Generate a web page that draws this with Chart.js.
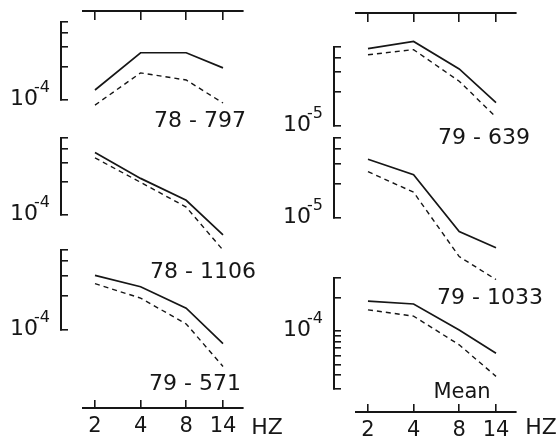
<!DOCTYPE html>
<html>
<head>
<meta charset="utf-8">
<script src="https://cdn.jsdelivr.net/npm/chart.js@4.4.1/dist/chart.umd.min.js"></script>
<style>
    body { margin: 0; background: #fff; }
    #wrap { position: relative; width: 559px; height: 444px; overflow: hidden; }
    .col { position: absolute; top: 0; }
</style>
</head>
<body>
<div id="wrap">
    <canvas id="leftCol" class="col" style="left:0" width="290" height="444"></canvas>
    <canvas id="rightCol" class="col" style="left:273px" width="286" height="444"></canvas>
</div>
<script>
// frequencies (Hz) and tick labels
const freq = [2, 4, 8, 14];
const freqTicks = [2, 4, 8, 14];

// spectral values, solid and dashed curves
const s78_797 = [1.23e-4, 2.65e-4, 2.65e-4, 1.94e-4];
const d78_797 = [0.90e-4, 1.75e-4, 1.51e-4, 0.94e-4];
const s78_1106 = [3.7e-4, 2.15e-4, 1.36e-4, 0.66e-4];
const d78_1106 = [3.3e-4, 1.98e-4, 1.18e-4, 0.48e-4];
const s79_571 = [3.0e-4, 2.39e-4, 1.55e-4, 0.76e-4];
const d79_571 = [2.54e-4, 1.9e-4, 1.13e-4, 0.48e-4];
const s79_639 = [4.84e-5, 5.6e-5, 3.2e-5, 1.61e-5];
const d79_639 = [4.27e-5, 4.74e-5, 2.49e-5, 1.2e-5];
const s79_1033 = [3.26e-5, 2.39e-5, 0.76e-5, 0.55e-5];
const d79_1033 = [2.54e-5, 1.68e-5, 0.46e-5, 0.29e-5];
const sMean = [1.86e-4, 1.75e-4, 1.02e-4, 0.63e-4];
const dMean = [1.55e-4, 1.36e-4, 0.75e-4, 0.39e-4];

// y tick values per panel type
const ticksE4 = [1e-4, 2e-4, 3e-4, 4e-4, 5e-4];
const ticksE5 = [1e-5, 2e-5, 3e-5, 4e-5, 5e-5];
const ticksMean = [3e-5, 4e-5, 5e-5, 6e-5, 7e-5, 8e-5, 9e-5, 1e-4, 2e-4, 3e-4];

const INK = '#161616';
const FONT = "'DejaVu Sans', sans-serif";

// panel names, "HZ" and the 10^n labels on the y axes
const textPlugin = {
    id: 'panelText',
    afterDraw(chart, args, opts) {
        const ctx = chart.ctx;
        ctx.save();
        ctx.fillStyle = INK;
        ctx.textAlign = 'center';
        ctx.textBaseline = 'middle';
        (opts.items || []).forEach(t => {
            ctx.font = (t.size || 22) + 'px ' + FONT;
            ctx.fillText(t.text, t.x, t.y);
        });

        (opts.powers || []).forEach(p => {
            const scale = chart.scales[p.axis];
            const y = scale.getPixelForValue(p.value);
            const right = scale.right - 11;
            ctx.textAlign = 'right';
            ctx.font = '16px ' + FONT;
            ctx.fillText(p.exp, right, y - 12);
            const ew = ctx.measureText(p.exp).width;
            ctx.font = '22px ' + FONT;
            ctx.fillText('10', right - ew + 4, y - 1);
        });
        ctx.restore();
    }
};

const logY = (ticks, min, max, weight, stackWeight) => ({
    type: 'logarithmic',
    position: 'left',
    stack: 'ys',
    stackWeight: stackWeight,
    weight: weight,
    min: min,
    max: max,
    afterBuildTicks: s => { s.ticks = ticks.map(v => ({ value: v })); },
    afterFit: s => { s.width = 61; },
    grid: { drawOnChartArea: false, tickLength: -7, color: INK, lineWidth: 1.6 },
    border: { color: INK, width: 2 },
    ticks: { display: false }
});

const spacer = (axis, position, stack, weight, stackWeight, size) => ({
    type: 'linear', axis: axis, position: position,
    stack: stack, weight: weight, stackWeight: stackWeight,
    grid: { display: false }, border: { display: false }, ticks: { display: false },
    afterFit: s => { if (axis === 'y') s.width = size; else s.height = size; }
});

const logX = (position, showLabels, weight) => ({
    type: 'logarithmic',
    position: position,
    stack: position === 'top' ? 'xt' : 'xb',
    stackWeight: 160,
    weight: weight,
    min: 1.667,
    max: 18.97,
    afterBuildTicks: s => { s.ticks = freqTicks.map(v => ({ value: v })); },
    afterFit: s => { s.height = position === 'top' ? 5 : 30; },
    grid: { drawOnChartArea: false, tickLength: position === 'top' ? -9 : -8, color: INK, lineWidth: 1.6 },
    border: { color: INK, width: 2 },
    ticks: {
        display: showLabels,
        autoSkip: false,
        maxRotation: 0,
        padding: 14,
        color: INK,
        font: { family: FONT, size: 21 },
        callback: v => String(v)
    }
});

function lines(solid, dashed, axisId) {
    const base = {
        xAxisID: 'x', yAxisID: axisId, borderColor: INK, pointRadius: 0,
        fill: false, tension: 0, clip: false
    };
    return [
        { ...base, data: freq.map((f, i) => ({ x: f, y: solid[i] })), borderWidth: 1.7 },
        { ...base, data: freq.map((f, i) => ({ x: f, y: dashed[i] })), borderWidth: 1.4, borderDash: [5, 4] }
    ];
}

function column(id, cfg) {
    const w = cfg.yWeights;
    const p = cfg.panels;
    new Chart(document.getElementById(id), {
        type: 'line',
        data: { datasets: p.flatMap((q, i) => lines(q.solid, q.dashed, 'y' + (i + 1))) },
        options: {
            responsive: false,
            animation: false,
            layout: { autoPadding: false, padding: cfg.padding },
            plugins: {
                legend: { display: false },
                tooltip: { enabled: false },
                panelText: {
                    items: cfg.texts,
                    powers: p.map((q, i) => ({ axis: 'y' + (i + 1), value: q.power, exp: q.exp }))
                }
            },
            scales: {
                yS0: spacer('y', 'left', 'ys', 7, w[0], 61),
                y1: logY(p[0].ticks, p[0].min, p[0].max, 6, w[1]),
                yG1: spacer('y', 'left', 'ys', 5, w[2], 61),
                y2: logY(p[1].ticks, p[1].min, p[1].max, 4, w[3]),
                yG2: spacer('y', 'left', 'ys', 3, w[4], 61),
                y3: logY(p[2].ticks, p[2].min, p[2].max, 2, w[5]),
                yS3: spacer('y', 'left', 'ys', 1, w[6], 61),
                xtL: spacer('x', 'top', 'xt', 3, 22, 5),
                xt: logX('top', false, 2),
                xtR: spacer('x', 'top', 'xt', 1, 7, 5),
                xbL: spacer('x', 'bottom', 'xb', 1, 22, 30),
                x: logX('bottom', true, 2),
                xbR: spacer('x', 'bottom', 'xb', 3, 7, 30)
            }
        },
        plugins: [textPlugin]
    });
}

column('leftCol', {
    padding: { left: 0, right: 40, top: 6, bottom: 6 },
    yWeights: [11, 78, 38, 77, 35, 80, 78],
    panels: [
        { solid: s78_797, dashed: d78_797, ticks: ticksE4, min: 1e-4, max: 5e-4, power: 1e-4, exp: '-4' },
        { solid: s78_1106, dashed: d78_1106, ticks: ticksE4, min: 1e-4, max: 5e-4, power: 1e-4, exp: '-4' },
        { solid: s79_571, dashed: d79_571, ticks: ticksE4, min: 1e-4, max: 5e-4, power: 1e-4, exp: '-4' }
    ],
    texts: [
        { text: '78 - 797', x: 200, y: 121 },
        { text: '78 - 1106', x: 203, y: 272 },
        { text: '79 - 571', x: 195, y: 384 },
        { text: 'HZ', x: 267, y: 428, size: 22 }
    ]
});

column('rightCol', {
    padding: { left: 0, right: 36, top: 8, bottom: 2 },
    yWeights: [34, 79, 12, 80, 60, 111, 23],
    panels: [
        { solid: s79_639, dashed: d79_639, ticks: ticksE5, min: 1e-5, max: 5e-5, power: 1e-5, exp: '-5' },
        { solid: s79_1033, dashed: d79_1033, ticks: ticksE5, min: 1e-5, max: 5e-5, power: 1e-5, exp: '-5' },
        { solid: sMean, dashed: dMean, ticks: ticksMean, min: 3e-5, max: 3e-4, power: 1e-4, exp: '-4' }
    ],
    texts: [
        { text: '79 - 639', x: 211, y: 138 },
        { text: '79 - 1033', x: 217, y: 298 },
        { text: 'Mean', x: 189, y: 393, size: 21 },
        { text: 'HZ', x: 268, y: 428, size: 22 }
    ]
});
</script>
</body>
</html>
